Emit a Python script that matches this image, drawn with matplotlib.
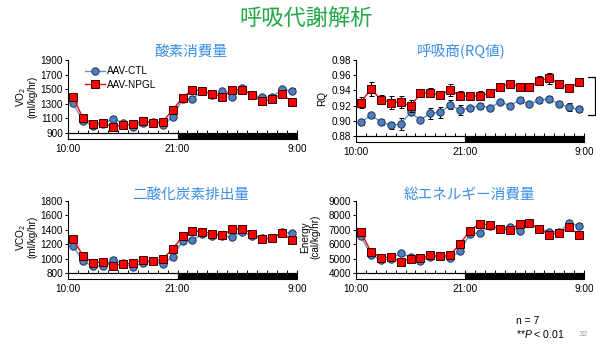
import matplotlib
matplotlib.use('Agg')
import matplotlib.pyplot as plt
import numpy as np
from matplotlib.patches import Rectangle
from matplotlib.lines import Line2D

plt.rcParams['font.family'] = ['Liberation Sans', 'Noto Sans CJK JP']
plt.rcParams['mathtext.fontset'] = 'custom'
plt.rcParams['mathtext.rm'] = 'Liberation Sans'
plt.rcParams['mathtext.it'] = 'Liberation Sans:italic'

hours = np.arange(23) + 0.5
tick_pos = [0, 11, 23]
tick_labels = ['10:00', '21:00', '9:00']

vo2_ctl = [1310, 1065, 1000, 1020, 1095, 1040, 985, 1040, 1050, 1005, 1120, 1360, 1370,
           1480, 1420, 1470, 1400, 1520, 1420, 1390, 1390, 1500, 1480]
vo2_npgl = [1395, 1105, 1030, 1040, 980, 1010, 1020, 1060, 1040, 1055, 1210, 1385, 1495,
            1480, 1430, 1400, 1495, 1495, 1420, 1340, 1360, 1440, 1325]
vo2_ctl_err = [25, 20, 20, 25, 40, 25, 20, 20, 20, 20, 25, 30, 35, 25, 25, 30, 30, 30, 25, 30, 30, 35, 35]
vo2_npgl_err = [20, 20, 20, 25, 25, 20, 20, 20, 20, 20, 25, 25, 25, 20, 25, 25, 25, 25, 20, 25, 25, 25, 20]

rq_ctl = [0.898, 0.907, 0.899, 0.894, 0.896, 0.911, 0.901, 0.910, 0.911, 0.921, 0.914, 0.917,
          0.920, 0.917, 0.925, 0.920, 0.927, 0.922, 0.927, 0.929, 0.922, 0.918, 0.915]
rq_npgl = [0.924, 0.942, 0.928, 0.924, 0.925, 0.919, 0.936, 0.937, 0.934, 0.941, 0.933, 0.932,
           0.933, 0.936, 0.944, 0.949, 0.945, 0.944, 0.953, 0.956, 0.949, 0.943, 0.951]
rq_ctl_err = [0.004, 0.003, 0.004, 0.005, 0.008, 0.003, 0.003, 0.007, 0.007, 0.006, 0.007, 0.003,
              0.004, 0.003, 0.003, 0.003, 0.004, 0.003, 0.003, 0.004, 0.004, 0.005, 0.004]
rq_npgl_err = [0.007, 0.009, 0.006, 0.008, 0.008, 0.008, 0.005, 0.006, 0.005, 0.008, 0.006, 0.005,
               0.006, 0.005, 0.005, 0.004, 0.005, 0.005, 0.006, 0.007, 0.005, 0.004, 0.004]

vco2_ctl = [1180, 966, 892, 900, 984, 938, 883, 938, 961, 929, 1021, 1242, 1256,
            1344, 1312, 1320, 1297, 1376, 1307, 1284, 1284, 1367, 1353]
vco2_npgl = [1275, 1040, 938, 957, 900, 924, 938, 980, 961, 994, 1132, 1307, 1385,
             1376, 1348, 1325, 1408, 1418, 1348, 1270, 1280, 1357, 1260]
vco2_ctl_err = [25, 20, 20, 20, 35, 20, 20, 20, 20, 20, 20, 25, 30, 25, 25, 25, 25, 25, 25, 25, 25, 30, 30]
vco2_npgl_err = [20, 20, 20, 20, 25, 20, 20, 20, 20, 20, 25, 25, 25, 20, 25, 25, 25, 25, 20, 25, 25, 25, 20]

en_ctl = [6535, 5267, 4922, 4968, 5382, 5106, 4853, 5106, 5152, 5014, 5544, 6696, 6811,
          7295, 7088, 7203, 6949, 7456, 7065, 6880, 6857, 7456, 7295]
en_npgl = [6857, 5475, 5060, 5106, 4783, 4991, 5014, 5244, 5152, 5244, 6028, 6949, 7433,
           7318, 7065, 6995, 7410, 7479, 7042, 6673, 6765, 7180, 6627]
en_ctl_err = [120, 100, 100, 100, 180, 110, 100, 100, 100, 100, 110, 130, 160, 110, 120, 130, 130, 130, 110, 130, 130, 150, 160]
en_npgl_err = [100, 100, 100, 100, 110, 100, 100, 100, 100, 100, 110, 110, 110, 100, 110, 110, 110, 110, 100, 110, 110, 110, 100]

blue_line = '#5b9bd5'
blue_fill = '#4f7fbf'
blue_edge = '#1c3355'
red = '#ff0000'
red_edge = '#3a0000'
title_blue = '#3a8ee6'

fig = plt.figure(figsize=(5.96, 3.44), dpi=100)
W, H = 596.0, 344.0


def make_axes(x0, x1, y_top, y_bot):
    return fig.add_axes([x0 / W, 1 - y_bot / H, (x1 - x0) / W, (y_bot - y_top) / H])


ctl_style = dict(color=blue_line, lw=1.0, marker='o', ms=5.3, mfc=blue_fill, mec=blue_edge, mew=0.7)
npgl_style = dict(color=red, lw=1.0, marker='s', ms=5.3, mfc=red, mec=red_edge, mew=0.7)


def draw_panel(ax, ctl, ctl_err, npgl, npgl_err, ylim, yticks, fmt):
    ax.errorbar(hours, ctl, yerr=ctl_err, ecolor='black', elinewidth=0.8,
                capsize=1.8, capthick=0.8, zorder=3, **ctl_style)
    ax.errorbar(hours, npgl, yerr=npgl_err, ecolor='black', elinewidth=0.8,
                capsize=1.8, capthick=0.8, zorder=4, **npgl_style)
    ax.set_xlim(0, 23)
    ax.set_ylim(*ylim)
    ax.set_yticks(yticks)
    ax.set_yticklabels([fmt.format(v) for v in yticks], fontsize=7.2)
    ax.set_xticks(tick_pos)
    ax.set_xticks(np.arange(24), minor=True)
    ax.set_xticklabels(tick_labels, fontsize=7.2)
    ax.tick_params(axis='x', which='both', direction='in', length=2.5, width=0.7, pad=8)
    ax.tick_params(axis='y', direction='out', length=2, width=0.7, pad=1.5)
    for s in ['top', 'right']:
        ax.spines[s].set_visible(False)
    ax.spines['left'].set_linewidth(0.8)
    ax.spines['bottom'].set_linewidth(0.8)
    # light / dark bar under the time axis
    ax_h_px = ax.get_position().height * H
    bh = 6.0 / ax_h_px
    tr = ax.get_xaxis_transform()
    ax.add_patch(Rectangle((0, -bh), 11, bh, transform=tr, facecolor='white',
                           edgecolor='black', lw=0.8, clip_on=False))
    ax.add_patch(Rectangle((11, -bh), 12, bh, transform=tr, facecolor='black',
                           edgecolor='black', lw=0.8, clip_on=False))


ax1 = make_axes(68, 297, 60, 133)
ax2 = make_axes(356, 584, 60, 136)
ax3 = make_axes(68, 297, 201, 273)
ax4 = make_axes(356, 584, 201, 273)

draw_panel(ax1, vo2_ctl, vo2_ctl_err, vo2_npgl, vo2_npgl_err, (900, 1900),
           [900, 1100, 1300, 1500, 1700, 1900], '{:d}')
draw_panel(ax2, rq_ctl, rq_ctl_err, rq_npgl, rq_npgl_err, (0.88, 0.98),
           [0.88, 0.90, 0.92, 0.94, 0.96, 0.98], '{:.2f}')
draw_panel(ax3, vco2_ctl, vco2_ctl_err, vco2_npgl, vco2_npgl_err, (800, 1800),
           [800, 1000, 1200, 1400, 1600, 1800], '{:d}')
draw_panel(ax4, en_ctl, en_ctl_err, en_npgl, en_npgl_err, (4000, 9000),
           [4000, 5000, 6000, 7000, 8000, 9000], '{:d}')

ax1.set_ylabel('VO$_2$\n(ml/kg/hr)', fontsize=7.2, labelpad=2, linespacing=1.0)
ax2.set_ylabel('RQ', fontsize=7.2, labelpad=3)
ax3.set_ylabel('VCO$_2$\n(ml/kg/hr)', fontsize=7.2, labelpad=2, linespacing=1.0)
ax4.set_ylabel('Energy\n(cal/kg/hr)', fontsize=7.2, labelpad=6, linespacing=1.0)

handles = [Line2D([], [], **ctl_style), Line2D([], [], **npgl_style)]
ax1.legend(handles, ['AAV-CTL', 'AAV-NPGL'], loc='upper left', bbox_to_anchor=(0.05, 1.0),
           frameon=False, fontsize=7.2, handlelength=2.0, handletextpad=0.2,
           labelspacing=0.35, borderaxespad=0.2)

jp = ['Noto Sans CJK JP', 'DejaVu Sans']
fig.text(191 / W, 1 - 52 / H, '酸素消費量', color=title_blue, fontsize=10.5,
         ha='center', va='center', family=jp)
fig.text(461 / W, 1 - 52 / H, '呼吸商(RQ値)', color=title_blue, fontsize=10.5,
         ha='center', va='center', family=jp)
fig.text(191 / W, 1 - 195 / H, '二酸化炭素排出量', color=title_blue, fontsize=10.5,
         ha='center', va='center', family=jp)
fig.text(469 / W, 1 - 195 / H, '総エネルギー消費量', color=title_blue, fontsize=10.5,
         ha='center', va='center', family=jp)
fig.text(306 / W, 1 - 18 / H, '呼吸代謝解析', color='#22a845', fontsize=16,
         ha='center', va='center', family=jp)

# significance bracket on the RQ panel
ax2.plot([23.4, 24.1, 24.1, 23.4], [0.9577, 0.9577, 0.908, 0.908], color='black',
         lw=0.9, clip_on=False)

fig.text(516 / W, 1 - 321 / H, 'n = 7', fontsize=7.5, ha='left', va='center')
fig.text(516 / W, 1 - 334 / H, '**$\\it{P}$ < 0.01', fontsize=7.5, ha='left', va='center')
fig.text(579 / W, 1 - 335 / H, '32', fontsize=6, color='#999999', ha='left', va='center')

fig.savefig('out.png', dpi=100)
